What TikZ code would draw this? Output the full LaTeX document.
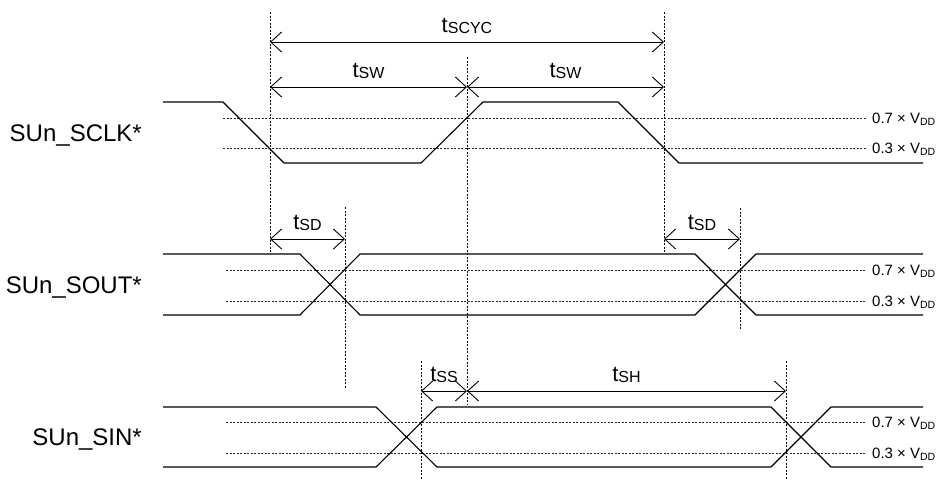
\documentclass[tikz,border=0pt]{standalone}
\usepackage{fontspec}
\setmainfont{Liberation Sans}
\usetikzlibrary{arrows.meta}
\newcommand{\tlab}[1]{{\fontsize{22}{22}\selectfont t}\raisebox{-1.8pt}{\fontsize{16}{16}\selectfont #1}}
\newcommand{\vlab}[1]{{\fontsize{15}{15}\selectfont #1 × V}\raisebox{-1.6pt}{\fontsize{10.5}{10.5}\selectfont DD}}
\begin{document}
\begin{tikzpicture}[x=1pt,y=-1pt,
  wave/.style={line width=1.1pt, line join=round},
  thr/.style={line width=0.7pt, dash pattern=on 2pt off 1.5pt, black!85},
  guide/.style={line width=0.7pt, dash pattern=on 2pt off 1.5pt},
  dim/.style={line width=0.9pt, {Straight Barb[length=11pt,width=20pt]}-{Straight Barb[length=11pt,width=20pt]}},
  tl/.style={anchor=base, inner sep=0pt, yshift=10pt},
  vl/.style={anchor=base west, inner sep=0pt},
  sig/.style={anchor=base east, inner sep=0pt, font=\fontsize{24}{24}\selectfont}]
\useasboundingbox (0,0) rectangle (940,480);

% guide verticals
\coordinate (vAt) at (270,12);  \coordinate (vAb) at (270,252);
\coordinate (vBt) at (467,57);  \coordinate (vBb) at (467,405);
\coordinate (vCt) at (664,12);  \coordinate (vCb) at (664,252);
\coordinate (vDt) at (345,207); \coordinate (vDb) at (345,388);
\coordinate (vEt) at (740,208); \coordinate (vEb) at (740,330);
\coordinate (vFt) at (421,361); \coordinate (vFb) at (421,480);
\coordinate (vGt) at (786,361); \coordinate (vGb) at (786,480);
\foreach \v in {A,B,C,D,E,F,G} \draw[guide] (v\v t) -- (v\v b);

% threshold lines
\foreach \y in {118,148} \draw[thr] (223,\y) -- (866,\y);
\foreach \y in {270,301} \draw[thr] (226,\y) -- (866,\y);
\foreach \y in {422,453} \draw[thr] (226,\y) -- (866,\y);

% waveforms
\draw[wave] (163,102) -- (223,102) -- (284,163) -- (421,163) -- (483,102) -- (618,102) -- (679,163) -- (923,163);
\draw[wave] (163,254) -- (300,254) -- (360,315) -- (695,315) -- (756,254) -- (923,254);
\draw[wave] (163,315) -- (300,315) -- (360,254) -- (695,254) -- (756,315) -- (923,315);
\draw[wave] (163,407) -- (376,407) -- (437,467) -- (771,467) -- (831,407) -- (923,407);
\draw[wave] (163,467) -- (376,467) -- (437,407) -- (771,407) -- (831,467) -- (923,467);

% dimension points
\coordinate (a1) at (270,42);  \coordinate (c1) at (664,42);
\coordinate (a2) at (270,87);  \coordinate (b2) at (467,87);  \coordinate (c2) at (664,87);
\coordinate (a3) at (270,239); \coordinate (d3) at (345,239);
\coordinate (c3) at (664,239); \coordinate (e3) at (740,239);
\coordinate (f4) at (421,391); \coordinate (b4) at (467,391); \coordinate (g4) at (786,391);

\draw[dim] (a1) -- node[tl, name=tscyc] {\tlab{SCYC}} (c1);
\draw[dim] (a2) -- node[tl, name=tsw1] {\tlab{SW}} (b2);
\draw[dim] (b2) -- node[tl, name=tsw2] {\tlab{SW}} (c2);
\draw[dim] (a3) -- node[tl, name=tsd1] {\tlab{SD}} (d3);
\draw[dim] (c3) -- node[tl, name=tsd2] {\tlab{SD}} (e3);
\draw[dim] (f4) -- node[tl, name=tss] {\tlab{SS}} (b4);
\draw[dim] (b4) -- node[tl, name=tsh] {\tlab{SH}} (g4);

% voltage labels
\node[vl] (v1h) at (872,123.5) {\vlab{0.7}};
\node[vl] (v1l) at (872,153.5) {\vlab{0.3}};
\node[vl] (v2h) at (872,275.5) {\vlab{0.7}};
\node[vl] (v2l) at (872,306.5) {\vlab{0.3}};
\node[vl] (v3h) at (872,427.5) {\vlab{0.7}};
\node[vl] (v3l) at (872,458.5) {\vlab{0.3}};

% signal names
\node[sig] (sclk) at (142,141) {SUn\_SCLK*};
\node[sig] (sout) at (142,293) {SUn\_SOUT*};
\node[sig] (sin)  at (142,445) {SUn\_SIN*};
\end{tikzpicture}
\end{document}
